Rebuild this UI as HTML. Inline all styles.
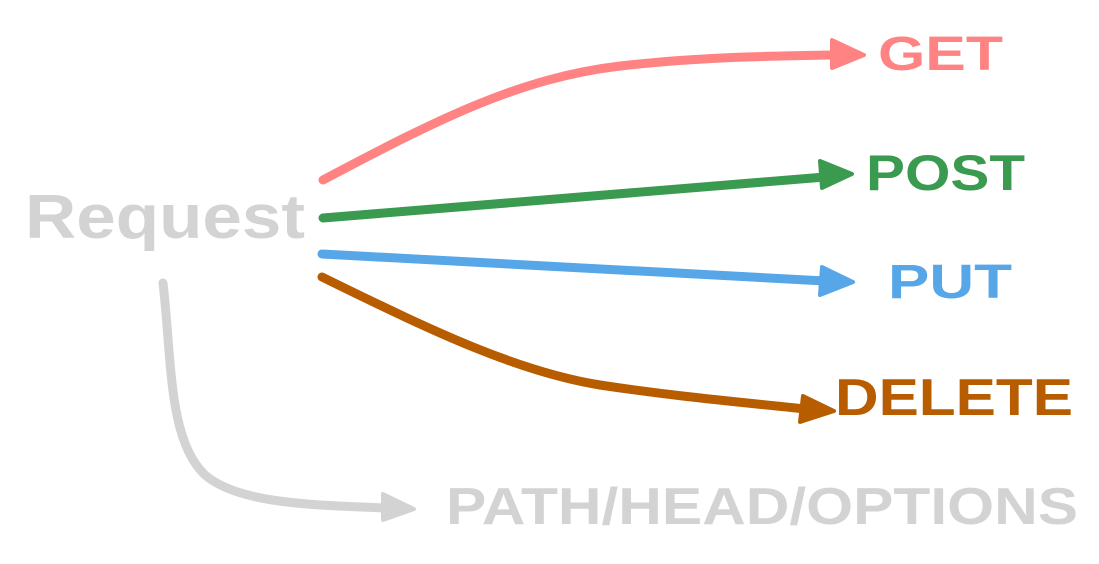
<!DOCTYPE html>
<html><head><meta charset="utf-8"><style>
html,body{margin:0;padding:0;background:#fff;width:1099px;height:564px;overflow:hidden}
svg text{font-family:"Liberation Sans",sans-serif;font-weight:bold}
</style></head><body>
<svg width="1099" height="564" viewBox="0 0 1099 564" xmlns="http://www.w3.org/2000/svg">
<g fill="none" stroke-width="9" stroke-linecap="round" stroke-linejoin="round">
<path d="M323,180 C440,118 520,78 620,66 C700,57 770,56 835,55" stroke="#ff8383"/>
<path d="M323,218 L825,177" stroke="#3a9a4f"/>
<path d="M322,254 L825,281" stroke="#57a6e8"/>
<path d="M322,277 C440,335 520,372 600,385 C680,397 740,402 805,409" stroke="#b85c00"/>
<path d="M163,283 C172,360 168,440 205,475 C240,505 320,505 385,508" stroke="#d3d3d3"/>
</g>
<polygon points="832,40 864,55 832,68" fill="#ff8383" stroke="#ff8383" stroke-width="4" stroke-linejoin="round"/>
<polygon points="820,161 852,174 822,188" fill="#3a9a4f" stroke="#3a9a4f" stroke-width="4" stroke-linejoin="round"/>
<polygon points="822,267 853,282 820,295" fill="#57a6e8" stroke="#57a6e8" stroke-width="4" stroke-linejoin="round"/>
<polygon points="803,396 834,411 800,422" fill="#b85c00" stroke="#b85c00" stroke-width="4" stroke-linejoin="round"/>
<polygon points="383,494 414,509 383,520" fill="#d3d3d3" stroke="#d3d3d3" stroke-width="4" stroke-linejoin="round"/>
<text x="25" y="238" font-size="62" fill="#d3d3d3" textLength="280" lengthAdjust="spacingAndGlyphs">Request</text>
<text x="878" y="70" font-size="48" fill="#ff8383" textLength="125" lengthAdjust="spacingAndGlyphs">GET</text>
<text x="866" y="190" font-size="50" fill="#3a9a4f" textLength="159" lengthAdjust="spacingAndGlyphs">POST</text>
<text x="888" y="298" font-size="48" fill="#57a6e8" textLength="124" lengthAdjust="spacingAndGlyphs">PUT</text>
<text x="835" y="415" font-size="52" fill="#b85c00" textLength="238" lengthAdjust="spacingAndGlyphs">DELETE</text>
<text x="446" y="524" font-size="52" fill="#d3d3d3" textLength="632" lengthAdjust="spacingAndGlyphs">PATH/HEAD/OPTIONS</text>
</svg>
</body></html>
